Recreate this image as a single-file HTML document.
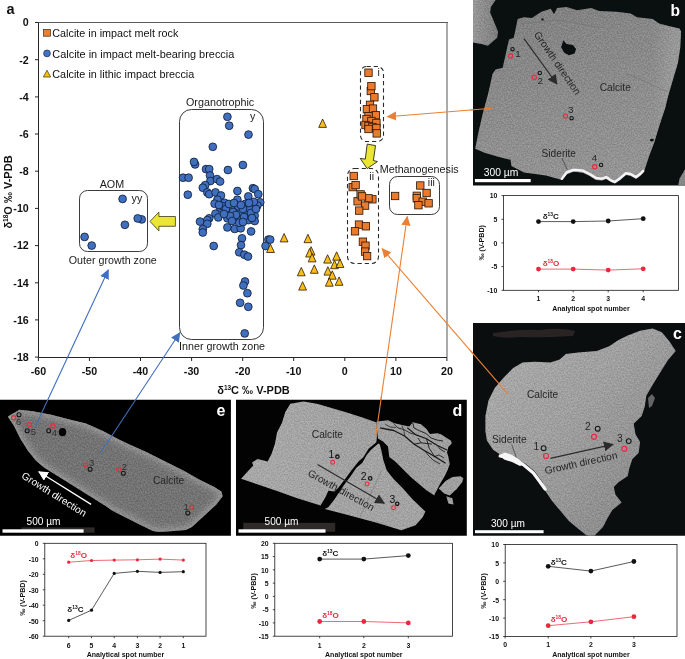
<!DOCTYPE html>
<html><head><meta charset="utf-8"><title>Figure</title>
<style>html,body{margin:0;padding:0;background:#fff;}body{width:685px;height:659px;overflow:hidden;font-family:"Liberation Sans", sans-serif;}svg{display:block;}</style>
</head><body><div style="will-change:transform;width:685px;height:659px;overflow:hidden">
<svg width="685" height="659" viewBox="0 0 685 659" font-family='"Liberation Sans", sans-serif'>
<defs>
<marker id="mo" viewBox="0 0 10 10" refX="9" refY="5" markerWidth="9.8" markerHeight="9.8" markerUnits="userSpaceOnUse" orient="auto"><path d="M0,0.3 L10,5 L0,9.7 z" fill="#EB8035"/></marker>
<marker id="mb" viewBox="0 0 10 10" refX="9" refY="5" markerWidth="9.8" markerHeight="9.8" markerUnits="userSpaceOnUse" orient="auto"><path d="M0,0.3 L10,5 L0,9.7 z" fill="#3F6FBE"/></marker>
<marker id="mk" viewBox="0 0 10 10" refX="9" refY="5" markerWidth="10" markerHeight="10" markerUnits="userSpaceOnUse" orient="auto"><path d="M0,0 L10,5 L0,10 z" fill="#2b2b2b"/></marker>
<marker id="mw" viewBox="0 0 10 10" refX="9" refY="5" markerWidth="10" markerHeight="10" markerUnits="userSpaceOnUse" orient="auto"><path d="M0,0 L10,5 L0,10 z" fill="#ffffff"/></marker>
<linearGradient id="gb" x1="0.2" y1="0" x2="0.5" y2="1"><stop offset="0" stop-color="#818181"/><stop offset="0.35" stop-color="#8a8a8a"/><stop offset="1" stop-color="#979797"/></linearGradient>
<linearGradient id="gc" x1="0" y1="0" x2="1" y2="1"><stop offset="0" stop-color="#b2b2b2"/><stop offset="0.45" stop-color="#a2a2a2"/><stop offset="1" stop-color="#848484"/></linearGradient>
<linearGradient id="gd" x1="0" y1="0" x2="1" y2="0"><stop offset="0" stop-color="#adadad"/><stop offset="1" stop-color="#a5a5a5"/></linearGradient>
<linearGradient id="ge" x1="0" y1="0" x2="1" y2="0.5"><stop offset="0" stop-color="#8e8e8e"/><stop offset="0.5" stop-color="#7a7a7a"/><stop offset="1" stop-color="#808080"/></linearGradient>
<filter id="blur3" x="-20%" y="-20%" width="140%" height="140%"><feGaussianBlur stdDeviation="3"/></filter>
<linearGradient id="gb0" x1="0" y1="0" x2="1" y2="0"><stop offset="0" stop-color="#9a9a9a"/><stop offset="1" stop-color="#7e7e7e"/></linearGradient>
<filter id="tex" x="0" y="0" width="100%" height="100%" color-interpolation-filters="sRGB">
<feTurbulence type="fractalNoise" baseFrequency="0.7" numOctaves="2" seed="7" result="n"/>
<feColorMatrix in="n" type="matrix" values="2.2 0 0 0 -0.6  2.2 0 0 0 -0.6  2.2 0 0 0 -0.6  0 0 0 0 0.11" result="n2"/>
<feComposite in="n2" in2="SourceGraphic" operator="in" result="n3"/>
<feMerge><feMergeNode in="SourceGraphic"/><feMergeNode in="n3"/></feMerge>
</filter>
<linearGradient id="gbr" x1="0" y1="0" x2="1" y2="0"><stop offset="0" stop-color="#fff" stop-opacity="0"/><stop offset="0.86" stop-color="#fff" stop-opacity="0"/><stop offset="0.96" stop-color="#fff" stop-opacity="0.13"/><stop offset="1" stop-color="#fff" stop-opacity="0.13"/></linearGradient>
</defs>
<rect width="685" height="659" fill="#ffffff"/>
<line x1="447" y1="22.0" x2="447" y2="357.5" stroke="#ababab" stroke-width="2"/>
<line x1="38.5" y1="22.5" x2="448" y2="22.5" stroke="#5a5a5a" stroke-width="1"/>
<path d="M38.5,22.5 V357.5 H447" fill="none" stroke="#262626" stroke-width="1"/>
<line x1="35.0" y1="22.5" x2="38.5" y2="22.5" stroke="#262626" stroke-width="1"/>
<text x="28.8" y="26.3" font-size="10.7" font-weight="bold" text-anchor="end" fill="#111">0</text>
<line x1="35.0" y1="59.7" x2="38.5" y2="59.7" stroke="#262626" stroke-width="1"/>
<text x="28.8" y="63.5" font-size="10.7" font-weight="bold" text-anchor="end" fill="#111">-2</text>
<line x1="35.0" y1="96.9" x2="38.5" y2="96.9" stroke="#262626" stroke-width="1"/>
<text x="28.8" y="100.7" font-size="10.7" font-weight="bold" text-anchor="end" fill="#111">-4</text>
<line x1="35.0" y1="134.0" x2="38.5" y2="134.0" stroke="#262626" stroke-width="1"/>
<text x="28.8" y="137.8" font-size="10.7" font-weight="bold" text-anchor="end" fill="#111">-6</text>
<line x1="35.0" y1="171.2" x2="38.5" y2="171.2" stroke="#262626" stroke-width="1"/>
<text x="28.8" y="175.0" font-size="10.7" font-weight="bold" text-anchor="end" fill="#111">-8</text>
<line x1="35.0" y1="208.4" x2="38.5" y2="208.4" stroke="#262626" stroke-width="1"/>
<text x="28.8" y="212.2" font-size="10.7" font-weight="bold" text-anchor="end" fill="#111">-10</text>
<line x1="35.0" y1="245.6" x2="38.5" y2="245.6" stroke="#262626" stroke-width="1"/>
<text x="28.8" y="249.4" font-size="10.7" font-weight="bold" text-anchor="end" fill="#111">-12</text>
<line x1="35.0" y1="282.8" x2="38.5" y2="282.8" stroke="#262626" stroke-width="1"/>
<text x="28.8" y="286.6" font-size="10.7" font-weight="bold" text-anchor="end" fill="#111">-14</text>
<line x1="35.0" y1="319.9" x2="38.5" y2="319.9" stroke="#262626" stroke-width="1"/>
<text x="28.8" y="323.7" font-size="10.7" font-weight="bold" text-anchor="end" fill="#111">-16</text>
<line x1="35.0" y1="357.1" x2="38.5" y2="357.1" stroke="#262626" stroke-width="1"/>
<text x="28.8" y="360.9" font-size="10.7" font-weight="bold" text-anchor="end" fill="#111">-18</text>
<line x1="38.4" y1="357.5" x2="38.4" y2="361.0" stroke="#262626" stroke-width="1"/>
<text x="38.4" y="374.6" font-size="10.7" font-weight="bold" text-anchor="middle" fill="#111">-60</text>
<line x1="89.4" y1="357.5" x2="89.4" y2="361.0" stroke="#262626" stroke-width="1"/>
<text x="89.4" y="374.6" font-size="10.7" font-weight="bold" text-anchor="middle" fill="#111">-50</text>
<line x1="140.5" y1="357.5" x2="140.5" y2="361.0" stroke="#262626" stroke-width="1"/>
<text x="140.5" y="374.6" font-size="10.7" font-weight="bold" text-anchor="middle" fill="#111">-40</text>
<line x1="191.6" y1="357.5" x2="191.6" y2="361.0" stroke="#262626" stroke-width="1"/>
<text x="191.6" y="374.6" font-size="10.7" font-weight="bold" text-anchor="middle" fill="#111">-30</text>
<line x1="242.7" y1="357.5" x2="242.7" y2="361.0" stroke="#262626" stroke-width="1"/>
<text x="242.7" y="374.6" font-size="10.7" font-weight="bold" text-anchor="middle" fill="#111">-20</text>
<line x1="293.7" y1="357.5" x2="293.7" y2="361.0" stroke="#262626" stroke-width="1"/>
<text x="293.7" y="374.6" font-size="10.7" font-weight="bold" text-anchor="middle" fill="#111">-10</text>
<line x1="344.8" y1="357.5" x2="344.8" y2="361.0" stroke="#262626" stroke-width="1"/>
<text x="344.8" y="374.6" font-size="10.7" font-weight="bold" text-anchor="middle" fill="#111">0</text>
<line x1="395.9" y1="357.5" x2="395.9" y2="361.0" stroke="#262626" stroke-width="1"/>
<text x="395.9" y="374.6" font-size="10.7" font-weight="bold" text-anchor="middle" fill="#111">10</text>
<line x1="446.9" y1="357.5" x2="446.9" y2="361.0" stroke="#262626" stroke-width="1"/>
<text x="446.9" y="374.6" font-size="10.7" font-weight="bold" text-anchor="middle" fill="#111">20</text>
<text x="253.5" y="393.6" font-size="11" font-weight="bold" text-anchor="middle" fill="#111">δ<tspan font-size="6.5" dy="-4">13</tspan><tspan dy="4">C ‰ V-PDB</tspan></text>
<text transform="translate(12.2,192) rotate(-90)" font-size="11" font-weight="bold" text-anchor="middle" fill="#111">δ<tspan font-size="6.5" dy="-4">18</tspan><tspan dy="4">O ‰ V-PDB</tspan></text>
<text x="6.4" y="13.7" font-size="14.5" font-weight="bold" fill="#111">a</text>
<rect x="43.6" y="29.4" width="6.8" height="6.8" fill="#ED7D31" stroke="#3a2a1a" stroke-width="0.7"/>
<text x="52.3" y="37" font-size="10.6" fill="#111" textLength="126" lengthAdjust="spacingAndGlyphs">Calcite in impact melt rock</text>
<circle cx="47" cy="53.4" r="3.4" fill="#4472C4" stroke="#1b2b4a" stroke-width="0.7"/>
<text x="52.3" y="57.5" font-size="10.6" fill="#111" textLength="182" lengthAdjust="spacingAndGlyphs">Calcite in impact melt-bearing breccia</text>
<path d="M47,70.2 L50.6,77 L43.4,77 z" fill="#FFC000" stroke="#3a2a1a" stroke-width="0.7"/>
<text x="52.3" y="78" font-size="10.6" fill="#111" textLength="142" lengthAdjust="spacingAndGlyphs">Calcite in lithic impact breccia</text>
<rect x="179.5" y="109.5" width="84" height="230" rx="12" ry="12" fill="none" stroke="#262626" stroke-width="0.9"/>
<rect x="79.5" y="190.5" width="68" height="61" rx="8" ry="8" fill="none" stroke="#262626" stroke-width="0.9"/>
<rect x="360.5" y="66.5" width="23" height="75" rx="6" ry="6" fill="none" stroke="#2a2a2a" stroke-width="1.1" stroke-dasharray="4.2,3"/>
<rect x="347.5" y="168.5" width="31" height="95" rx="7" ry="7" fill="none" stroke="#2a2a2a" stroke-width="1.1" stroke-dasharray="4.2,3"/>
<rect x="389.5" y="176.5" width="50" height="38" rx="8" ry="8" fill="none" stroke="#262626" stroke-width="0.9"/>
<text x="186" y="106" font-size="10.7" text-anchor="start" fill="#1a1a1a" textLength="68.2" lengthAdjust="spacingAndGlyphs">Organotrophic</text>
<text x="250" y="120.2" font-size="10.7" text-anchor="start" fill="#1a1a1a">y</text>
<text x="99.7" y="188.3" font-size="10.7" text-anchor="start" fill="#1a1a1a" textLength="24.5" lengthAdjust="spacingAndGlyphs">AOM</text>
<text x="131.6" y="201.8" font-size="10.7" text-anchor="start" fill="#1a1a1a">yy</text>
<text x="68.8" y="263.6" font-size="10.7" text-anchor="start" fill="#1a1a1a" textLength="88" lengthAdjust="spacingAndGlyphs">Outer growth zone</text>
<text x="179.1" y="350.3" font-size="10.7" text-anchor="start" fill="#1a1a1a" textLength="86" lengthAdjust="spacingAndGlyphs">Inner growth zone</text>
<text x="379.7" y="172.8" font-size="10.7" text-anchor="start" fill="#1a1a1a" textLength="79" lengthAdjust="spacingAndGlyphs">Methanogenesis</text>
<text x="377.5" y="76" font-size="10.5" text-anchor="start" fill="#1a1a1a">i</text>
<text x="369.3" y="180.3" font-size="10.5" text-anchor="start" fill="#1a1a1a">ii</text>
<text x="427.8" y="186" font-size="10.5" text-anchor="start" fill="#1a1a1a">iii</text>
<circle cx="227.4" cy="116.8" r="3.9" fill="#3F6FBE" stroke="#0e1a33" stroke-width="0.8"/>
<circle cx="229.2" cy="125.7" r="3.9" fill="#3F6FBE" stroke="#0e1a33" stroke-width="0.8"/>
<circle cx="248.5" cy="134.6" r="3.9" fill="#3F6FBE" stroke="#0e1a33" stroke-width="0.8"/>
<circle cx="212.8" cy="146.8" r="3.9" fill="#3F6FBE" stroke="#0e1a33" stroke-width="0.8"/>
<circle cx="195.1" cy="164.4" r="3.9" fill="#3F6FBE" stroke="#0e1a33" stroke-width="0.8"/>
<circle cx="194" cy="161.9" r="3.9" fill="#3F6FBE" stroke="#0e1a33" stroke-width="0.8"/>
<circle cx="242.9" cy="165" r="3.9" fill="#3F6FBE" stroke="#0e1a33" stroke-width="0.8"/>
<circle cx="227.9" cy="170" r="3.9" fill="#3F6FBE" stroke="#0e1a33" stroke-width="0.8"/>
<circle cx="206" cy="169.1" r="3.9" fill="#3F6FBE" stroke="#0e1a33" stroke-width="0.8"/>
<circle cx="209.2" cy="169.1" r="3.9" fill="#3F6FBE" stroke="#0e1a33" stroke-width="0.8"/>
<circle cx="183.1" cy="177.7" r="3.9" fill="#3F6FBE" stroke="#0e1a33" stroke-width="0.8"/>
<circle cx="188.6" cy="177.7" r="3.9" fill="#3F6FBE" stroke="#0e1a33" stroke-width="0.8"/>
<circle cx="210" cy="175.5" r="3.9" fill="#3F6FBE" stroke="#0e1a33" stroke-width="0.8"/>
<circle cx="210.4" cy="181" r="3.9" fill="#3F6FBE" stroke="#0e1a33" stroke-width="0.8"/>
<circle cx="217" cy="179.1" r="3.9" fill="#3F6FBE" stroke="#0e1a33" stroke-width="0.8"/>
<circle cx="220.1" cy="181.5" r="3.9" fill="#3F6FBE" stroke="#0e1a33" stroke-width="0.8"/>
<circle cx="205.2" cy="185.1" r="3.9" fill="#3F6FBE" stroke="#0e1a33" stroke-width="0.8"/>
<circle cx="202.8" cy="187.7" r="3.9" fill="#3F6FBE" stroke="#0e1a33" stroke-width="0.8"/>
<circle cx="187.8" cy="194.7" r="3.9" fill="#3F6FBE" stroke="#0e1a33" stroke-width="0.8"/>
<circle cx="207.3" cy="192.4" r="3.9" fill="#3F6FBE" stroke="#0e1a33" stroke-width="0.8"/>
<circle cx="209.2" cy="194.2" r="3.9" fill="#3F6FBE" stroke="#0e1a33" stroke-width="0.8"/>
<circle cx="215.5" cy="192.4" r="3.9" fill="#3F6FBE" stroke="#0e1a33" stroke-width="0.8"/>
<circle cx="221" cy="195.5" r="3.9" fill="#3F6FBE" stroke="#0e1a33" stroke-width="0.8"/>
<circle cx="237.4" cy="191" r="3.9" fill="#3F6FBE" stroke="#0e1a33" stroke-width="0.8"/>
<circle cx="252.9" cy="188.2" r="3.9" fill="#3F6FBE" stroke="#0e1a33" stroke-width="0.8"/>
<circle cx="254.7" cy="189.1" r="3.9" fill="#3F6FBE" stroke="#0e1a33" stroke-width="0.8"/>
<circle cx="258.3" cy="194.2" r="3.9" fill="#3F6FBE" stroke="#0e1a33" stroke-width="0.8"/>
<circle cx="248.3" cy="196.4" r="3.9" fill="#3F6FBE" stroke="#0e1a33" stroke-width="0.8"/>
<circle cx="260.2" cy="202.3" r="3.9" fill="#3F6FBE" stroke="#0e1a33" stroke-width="0.8"/>
<circle cx="257.4" cy="205.5" r="3.9" fill="#3F6FBE" stroke="#0e1a33" stroke-width="0.8"/>
<circle cx="237.4" cy="199.7" r="3.9" fill="#3F6FBE" stroke="#0e1a33" stroke-width="0.8"/>
<circle cx="217.4" cy="199.7" r="3.9" fill="#3F6FBE" stroke="#0e1a33" stroke-width="0.8"/>
<circle cx="214.6" cy="203.7" r="3.9" fill="#3F6FBE" stroke="#0e1a33" stroke-width="0.8"/>
<circle cx="220.1" cy="208.3" r="3.9" fill="#3F6FBE" stroke="#0e1a33" stroke-width="0.8"/>
<circle cx="224.6" cy="202.8" r="3.9" fill="#3F6FBE" stroke="#0e1a33" stroke-width="0.8"/>
<circle cx="231" cy="207" r="3.9" fill="#3F6FBE" stroke="#0e1a33" stroke-width="0.8"/>
<circle cx="228.3" cy="212.8" r="3.9" fill="#3F6FBE" stroke="#0e1a33" stroke-width="0.8"/>
<circle cx="215.5" cy="213.7" r="3.9" fill="#3F6FBE" stroke="#0e1a33" stroke-width="0.8"/>
<circle cx="218.3" cy="217.4" r="3.9" fill="#3F6FBE" stroke="#0e1a33" stroke-width="0.8"/>
<circle cx="209.2" cy="218.3" r="3.9" fill="#3F6FBE" stroke="#0e1a33" stroke-width="0.8"/>
<circle cx="207.3" cy="220.1" r="3.9" fill="#3F6FBE" stroke="#0e1a33" stroke-width="0.8"/>
<circle cx="200" cy="221.6" r="3.9" fill="#3F6FBE" stroke="#0e1a33" stroke-width="0.8"/>
<circle cx="207.3" cy="223.8" r="3.9" fill="#3F6FBE" stroke="#0e1a33" stroke-width="0.8"/>
<circle cx="202.8" cy="229.2" r="3.9" fill="#3F6FBE" stroke="#0e1a33" stroke-width="0.8"/>
<circle cx="202.8" cy="232.5" r="3.9" fill="#3F6FBE" stroke="#0e1a33" stroke-width="0.8"/>
<circle cx="227.4" cy="218.3" r="3.9" fill="#3F6FBE" stroke="#0e1a33" stroke-width="0.8"/>
<circle cx="227.4" cy="227.4" r="3.9" fill="#3F6FBE" stroke="#0e1a33" stroke-width="0.8"/>
<circle cx="234.7" cy="228.9" r="3.9" fill="#3F6FBE" stroke="#0e1a33" stroke-width="0.8"/>
<circle cx="240.7" cy="228.3" r="3.9" fill="#3F6FBE" stroke="#0e1a33" stroke-width="0.8"/>
<circle cx="251.1" cy="231.4" r="3.9" fill="#3F6FBE" stroke="#0e1a33" stroke-width="0.8"/>
<circle cx="237.4" cy="218.3" r="3.9" fill="#3F6FBE" stroke="#0e1a33" stroke-width="0.8"/>
<circle cx="239.2" cy="222.8" r="3.9" fill="#3F6FBE" stroke="#0e1a33" stroke-width="0.8"/>
<circle cx="240.1" cy="212.8" r="3.9" fill="#3F6FBE" stroke="#0e1a33" stroke-width="0.8"/>
<circle cx="238.3" cy="206.4" r="3.9" fill="#3F6FBE" stroke="#0e1a33" stroke-width="0.8"/>
<circle cx="245.6" cy="203.7" r="3.9" fill="#3F6FBE" stroke="#0e1a33" stroke-width="0.8"/>
<circle cx="247.4" cy="207.4" r="3.9" fill="#3F6FBE" stroke="#0e1a33" stroke-width="0.8"/>
<circle cx="246.5" cy="214.6" r="3.9" fill="#3F6FBE" stroke="#0e1a33" stroke-width="0.8"/>
<circle cx="248.3" cy="220.1" r="3.9" fill="#3F6FBE" stroke="#0e1a33" stroke-width="0.8"/>
<circle cx="254.7" cy="215.6" r="3.9" fill="#3F6FBE" stroke="#0e1a33" stroke-width="0.8"/>
<circle cx="254.7" cy="221" r="3.9" fill="#3F6FBE" stroke="#0e1a33" stroke-width="0.8"/>
<circle cx="250.1" cy="209.2" r="3.9" fill="#3F6FBE" stroke="#0e1a33" stroke-width="0.8"/>
<circle cx="253.8" cy="201.9" r="3.9" fill="#3F6FBE" stroke="#0e1a33" stroke-width="0.8"/>
<circle cx="242" cy="238.3" r="3.9" fill="#3F6FBE" stroke="#0e1a33" stroke-width="0.8"/>
<circle cx="241" cy="245.1" r="3.9" fill="#3F6FBE" stroke="#0e1a33" stroke-width="0.8"/>
<circle cx="239.2" cy="252.3" r="3.9" fill="#3F6FBE" stroke="#0e1a33" stroke-width="0.8"/>
<circle cx="244.3" cy="254.7" r="3.9" fill="#3F6FBE" stroke="#0e1a33" stroke-width="0.8"/>
<circle cx="248" cy="256.5" r="3.9" fill="#3F6FBE" stroke="#0e1a33" stroke-width="0.8"/>
<circle cx="213.7" cy="246" r="3.9" fill="#3F6FBE" stroke="#0e1a33" stroke-width="0.8"/>
<circle cx="268.4" cy="239.6" r="3.9" fill="#3F6FBE" stroke="#0e1a33" stroke-width="0.8"/>
<circle cx="270.2" cy="239.6" r="3.9" fill="#3F6FBE" stroke="#0e1a33" stroke-width="0.8"/>
<circle cx="265.6" cy="246" r="3.9" fill="#3F6FBE" stroke="#0e1a33" stroke-width="0.8"/>
<circle cx="245" cy="281.5" r="3.9" fill="#3F6FBE" stroke="#0e1a33" stroke-width="0.8"/>
<circle cx="243.4" cy="285.5" r="3.9" fill="#3F6FBE" stroke="#0e1a33" stroke-width="0.8"/>
<circle cx="247.4" cy="293.2" r="3.9" fill="#3F6FBE" stroke="#0e1a33" stroke-width="0.8"/>
<circle cx="240.1" cy="302.8" r="3.9" fill="#3F6FBE" stroke="#0e1a33" stroke-width="0.8"/>
<circle cx="248.3" cy="306.8" r="3.9" fill="#3F6FBE" stroke="#0e1a33" stroke-width="0.8"/>
<circle cx="244.7" cy="333.4" r="3.9" fill="#3F6FBE" stroke="#0e1a33" stroke-width="0.8"/>
<circle cx="222" cy="206" r="3.9" fill="#3F6FBE" stroke="#0e1a33" stroke-width="0.8"/>
<circle cx="226" cy="209" r="3.9" fill="#3F6FBE" stroke="#0e1a33" stroke-width="0.8"/>
<circle cx="233" cy="212" r="3.9" fill="#3F6FBE" stroke="#0e1a33" stroke-width="0.8"/>
<circle cx="236" cy="215" r="3.9" fill="#3F6FBE" stroke="#0e1a33" stroke-width="0.8"/>
<circle cx="243" cy="209" r="3.9" fill="#3F6FBE" stroke="#0e1a33" stroke-width="0.8"/>
<circle cx="244" cy="217" r="3.9" fill="#3F6FBE" stroke="#0e1a33" stroke-width="0.8"/>
<circle cx="230" cy="216" r="3.9" fill="#3F6FBE" stroke="#0e1a33" stroke-width="0.8"/>
<circle cx="224" cy="214" r="3.9" fill="#3F6FBE" stroke="#0e1a33" stroke-width="0.8"/>
<circle cx="251" cy="213" r="3.9" fill="#3F6FBE" stroke="#0e1a33" stroke-width="0.8"/>
<circle cx="256" cy="209" r="3.9" fill="#3F6FBE" stroke="#0e1a33" stroke-width="0.8"/>
<circle cx="219" cy="205" r="3.9" fill="#3F6FBE" stroke="#0e1a33" stroke-width="0.8"/>
<circle cx="229" cy="204" r="3.9" fill="#3F6FBE" stroke="#0e1a33" stroke-width="0.8"/>
<circle cx="234" cy="203" r="3.9" fill="#3F6FBE" stroke="#0e1a33" stroke-width="0.8"/>
<circle cx="241" cy="205" r="3.9" fill="#3F6FBE" stroke="#0e1a33" stroke-width="0.8"/>
<circle cx="249" cy="203" r="3.9" fill="#3F6FBE" stroke="#0e1a33" stroke-width="0.8"/>
<circle cx="252" cy="218" r="3.9" fill="#3F6FBE" stroke="#0e1a33" stroke-width="0.8"/>
<circle cx="243" cy="222" r="3.9" fill="#3F6FBE" stroke="#0e1a33" stroke-width="0.8"/>
<circle cx="232" cy="221" r="3.9" fill="#3F6FBE" stroke="#0e1a33" stroke-width="0.8"/>
<circle cx="122.6" cy="198.9" r="3.9" fill="#3F6FBE" stroke="#0e1a33" stroke-width="0.8"/>
<circle cx="141.7" cy="219.4" r="3.9" fill="#3F6FBE" stroke="#0e1a33" stroke-width="0.8"/>
<circle cx="137.7" cy="218.4" r="3.9" fill="#3F6FBE" stroke="#0e1a33" stroke-width="0.8"/>
<circle cx="124.9" cy="224.8" r="3.9" fill="#3F6FBE" stroke="#0e1a33" stroke-width="0.8"/>
<circle cx="84.6" cy="236.9" r="3.9" fill="#3F6FBE" stroke="#0e1a33" stroke-width="0.8"/>
<circle cx="91.7" cy="245.6" r="3.9" fill="#3F6FBE" stroke="#0e1a33" stroke-width="0.8"/>
<path d="M284.1,233.5 L288.0,241.9 L280.2,241.9 z" fill="#FBBD1A" stroke="#2a1c05" stroke-width="0.8"/>
<path d="M270.5,244.1 L274.4,252.5 L266.6,252.5 z" fill="#FBBD1A" stroke="#2a1c05" stroke-width="0.8"/>
<path d="M307.9,234.3 L311.8,242.7 L304.0,242.7 z" fill="#FBBD1A" stroke="#2a1c05" stroke-width="0.8"/>
<path d="M311.1,246.7 L315.0,255.1 L307.2,255.1 z" fill="#FBBD1A" stroke="#2a1c05" stroke-width="0.8"/>
<path d="M309.6,248.6 L313.5,257.0 L305.7,257.0 z" fill="#FBBD1A" stroke="#2a1c05" stroke-width="0.8"/>
<path d="M312.1,253.5 L316.0,261.9 L308.2,261.9 z" fill="#FBBD1A" stroke="#2a1c05" stroke-width="0.8"/>
<path d="M301.3,267.4 L305.2,275.8 L297.4,275.8 z" fill="#FBBD1A" stroke="#2a1c05" stroke-width="0.8"/>
<path d="M314.3,264.9 L318.2,273.3 L310.4,273.3 z" fill="#FBBD1A" stroke="#2a1c05" stroke-width="0.8"/>
<path d="M302.6,281.7 L306.5,290.1 L298.7,290.1 z" fill="#FBBD1A" stroke="#2a1c05" stroke-width="0.8"/>
<path d="M327.6,254.7 L331.5,263.1 L323.7,263.1 z" fill="#FBBD1A" stroke="#2a1c05" stroke-width="0.8"/>
<path d="M336.6,251.8 L340.5,260.2 L332.7,260.2 z" fill="#FBBD1A" stroke="#2a1c05" stroke-width="0.8"/>
<path d="M334.5,260.3 L338.4,268.7 L330.6,268.7 z" fill="#FBBD1A" stroke="#2a1c05" stroke-width="0.8"/>
<path d="M340.0,259.1 L343.9,267.5 L336.1,267.5 z" fill="#FBBD1A" stroke="#2a1c05" stroke-width="0.8"/>
<path d="M327.9,266.7 L331.8,275.1 L324.0,275.1 z" fill="#FBBD1A" stroke="#2a1c05" stroke-width="0.8"/>
<path d="M332.3,270.8 L336.2,279.2 L328.4,279.2 z" fill="#FBBD1A" stroke="#2a1c05" stroke-width="0.8"/>
<path d="M329.3,277.8 L333.2,286.2 L325.4,286.2 z" fill="#FBBD1A" stroke="#2a1c05" stroke-width="0.8"/>
<path d="M339.1,276.9 L343.0,285.3 L335.2,285.3 z" fill="#FBBD1A" stroke="#2a1c05" stroke-width="0.8"/>
<path d="M322.6,119.0 L326.5,127.4 L318.7,127.4 z" fill="#FBBD1A" stroke="#2a1c05" stroke-width="0.8"/>
<rect x="364.8" y="69.0" width="7.4" height="7.4" fill="#E97A2E" stroke="#2a1505" stroke-width="0.8"/>
<rect x="367.1" y="87.3" width="7.4" height="7.4" fill="#E97A2E" stroke="#2a1505" stroke-width="0.8"/>
<rect x="367.7" y="82.4" width="7.4" height="7.4" fill="#E97A2E" stroke="#2a1505" stroke-width="0.8"/>
<rect x="370.7" y="93.6" width="7.4" height="7.4" fill="#E97A2E" stroke="#2a1505" stroke-width="0.8"/>
<rect x="366.3" y="101.1" width="7.4" height="7.4" fill="#E97A2E" stroke="#2a1505" stroke-width="0.8"/>
<rect x="363.2" y="105.5" width="7.4" height="7.4" fill="#E97A2E" stroke="#2a1505" stroke-width="0.8"/>
<rect x="369.3" y="104.9" width="7.4" height="7.4" fill="#E97A2E" stroke="#2a1505" stroke-width="0.8"/>
<rect x="372.1" y="111.4" width="7.4" height="7.4" fill="#E97A2E" stroke="#2a1505" stroke-width="0.8"/>
<rect x="364.8" y="112.4" width="7.4" height="7.4" fill="#E97A2E" stroke="#2a1505" stroke-width="0.8"/>
<rect x="362.8" y="115.3" width="7.4" height="7.4" fill="#E97A2E" stroke="#2a1505" stroke-width="0.8"/>
<rect x="367.7" y="117.3" width="7.4" height="7.4" fill="#E97A2E" stroke="#2a1505" stroke-width="0.8"/>
<rect x="372.7" y="119.3" width="7.4" height="7.4" fill="#E97A2E" stroke="#2a1505" stroke-width="0.8"/>
<rect x="361.8" y="121.3" width="7.4" height="7.4" fill="#E97A2E" stroke="#2a1505" stroke-width="0.8"/>
<rect x="364.8" y="122.3" width="7.4" height="7.4" fill="#E97A2E" stroke="#2a1505" stroke-width="0.8"/>
<rect x="368.7" y="123.3" width="7.4" height="7.4" fill="#E97A2E" stroke="#2a1505" stroke-width="0.8"/>
<rect x="372.7" y="124.3" width="7.4" height="7.4" fill="#E97A2E" stroke="#2a1505" stroke-width="0.8"/>
<rect x="364.8" y="125.3" width="7.4" height="7.4" fill="#E97A2E" stroke="#2a1505" stroke-width="0.8"/>
<rect x="373.0" y="129.7" width="7.4" height="7.4" fill="#E97A2E" stroke="#2a1505" stroke-width="0.8"/>
<rect x="350.0" y="172.3" width="7.4" height="7.4" fill="#E97A2E" stroke="#2a1505" stroke-width="0.8"/>
<rect x="349.0" y="183.4" width="7.4" height="7.4" fill="#E97A2E" stroke="#2a1505" stroke-width="0.8"/>
<rect x="351.9" y="181.4" width="7.4" height="7.4" fill="#E97A2E" stroke="#2a1505" stroke-width="0.8"/>
<rect x="353.9" y="197.6" width="7.4" height="7.4" fill="#E97A2E" stroke="#2a1505" stroke-width="0.8"/>
<rect x="368.7" y="195.6" width="7.4" height="7.4" fill="#E97A2E" stroke="#2a1505" stroke-width="0.8"/>
<rect x="364.8" y="194.6" width="7.4" height="7.4" fill="#E97A2E" stroke="#2a1505" stroke-width="0.8"/>
<rect x="356.9" y="190.7" width="7.4" height="7.4" fill="#E97A2E" stroke="#2a1505" stroke-width="0.8"/>
<rect x="358.3" y="192.7" width="7.4" height="7.4" fill="#E97A2E" stroke="#2a1505" stroke-width="0.8"/>
<rect x="361.4" y="201.9" width="7.4" height="7.4" fill="#E97A2E" stroke="#2a1505" stroke-width="0.8"/>
<rect x="355.5" y="206.9" width="7.4" height="7.4" fill="#E97A2E" stroke="#2a1505" stroke-width="0.8"/>
<rect x="355.3" y="220.9" width="7.4" height="7.4" fill="#E97A2E" stroke="#2a1505" stroke-width="0.8"/>
<rect x="362.2" y="222.6" width="7.4" height="7.4" fill="#E97A2E" stroke="#2a1505" stroke-width="0.8"/>
<rect x="351.3" y="227.6" width="7.4" height="7.4" fill="#E97A2E" stroke="#2a1505" stroke-width="0.8"/>
<rect x="359.2" y="238.0" width="7.4" height="7.4" fill="#E97A2E" stroke="#2a1505" stroke-width="0.8"/>
<rect x="361.8" y="242.0" width="7.4" height="7.4" fill="#E97A2E" stroke="#2a1505" stroke-width="0.8"/>
<rect x="361.4" y="247.9" width="7.4" height="7.4" fill="#E97A2E" stroke="#2a1505" stroke-width="0.8"/>
<rect x="363.4" y="252.4" width="7.4" height="7.4" fill="#E97A2E" stroke="#2a1505" stroke-width="0.8"/>
<rect x="391.4" y="192.3" width="7.4" height="7.4" fill="#E97A2E" stroke="#2a1505" stroke-width="0.8"/>
<rect x="416.6" y="181.8" width="7.4" height="7.4" fill="#E97A2E" stroke="#2a1505" stroke-width="0.8"/>
<rect x="422.9" y="189.3" width="7.4" height="7.4" fill="#E97A2E" stroke="#2a1505" stroke-width="0.8"/>
<rect x="413.1" y="192.1" width="7.4" height="7.4" fill="#E97A2E" stroke="#2a1505" stroke-width="0.8"/>
<rect x="413.1" y="194.6" width="7.4" height="7.4" fill="#E97A2E" stroke="#2a1505" stroke-width="0.8"/>
<rect x="419.0" y="198.0" width="7.4" height="7.4" fill="#E97A2E" stroke="#2a1505" stroke-width="0.8"/>
<rect x="424.9" y="199.6" width="7.4" height="7.4" fill="#E97A2E" stroke="#2a1505" stroke-width="0.8"/>
<rect x="414.7" y="201.5" width="7.4" height="7.4" fill="#E97A2E" stroke="#2a1505" stroke-width="0.8"/>
<path d="M150,221.4 L158.9,212.1 L158.9,216.5 L175.4,216.5 L175.4,226.3 L158.9,226.3 L158.9,230.9 z" fill="#EBE534" stroke="#3a3a1a" stroke-width="0.8"/>
<path d="M367.2,144.1 L375.5,145.6 L373.4,160.5 L377.4,161.6 L367.2,168.6 L360.2,158.4 L365.3,159.1 z" fill="#EBE534" stroke="#2a2a10" stroke-width="0.9" stroke-linejoin="miter"/>
<line x1="492.3" y1="108.2" x2="387.4" y2="116.7" stroke="#EB8035" stroke-width="1.1" marker-end="url(#mo)"/>
<line x1="375.8" y1="435.7" x2="407.2" y2="216.6" stroke="#EB8035" stroke-width="1.1" marker-end="url(#mo)"/>
<line x1="508" y1="394.2" x2="382.2" y2="248.7" stroke="#EB8035" stroke-width="1.1" marker-end="url(#mo)"/>
<rect x="503.5" y="195.6" width="175.1" height="94.7" fill="#fff" stroke="#1a1a1a" stroke-width="0.8"/>
<line x1="501.5" y1="290.3" x2="503.5" y2="290.3" stroke="#1a1a1a" stroke-width="0.8"/>
<text x="497.3" y="293.1" font-size="6.9" font-weight="bold" text-anchor="end" fill="#111">-10</text>
<line x1="501.5" y1="266.6" x2="503.5" y2="266.6" stroke="#1a1a1a" stroke-width="0.8"/>
<text x="497.3" y="269.4" font-size="6.9" font-weight="bold" text-anchor="end" fill="#111">-5</text>
<line x1="501.5" y1="242.9" x2="503.5" y2="242.9" stroke="#1a1a1a" stroke-width="0.8"/>
<text x="497.3" y="245.7" font-size="6.9" font-weight="bold" text-anchor="end" fill="#111">0</text>
<line x1="501.5" y1="219.3" x2="503.5" y2="219.3" stroke="#1a1a1a" stroke-width="0.8"/>
<text x="497.3" y="222.0" font-size="6.9" font-weight="bold" text-anchor="end" fill="#111">5</text>
<line x1="501.5" y1="195.6" x2="503.5" y2="195.6" stroke="#1a1a1a" stroke-width="0.8"/>
<text x="497.3" y="198.3" font-size="6.9" font-weight="bold" text-anchor="end" fill="#111">10</text>
<line x1="538.5" y1="290.3" x2="538.5" y2="292.3" stroke="#1a1a1a" stroke-width="0.8"/>
<text x="538.5" y="301.0" font-size="6.9" font-weight="bold" text-anchor="middle" fill="#111">1</text>
<line x1="573.2" y1="290.3" x2="573.2" y2="292.3" stroke="#1a1a1a" stroke-width="0.8"/>
<text x="573.2" y="301.0" font-size="6.9" font-weight="bold" text-anchor="middle" fill="#111">2</text>
<line x1="608.2" y1="290.3" x2="608.2" y2="292.3" stroke="#1a1a1a" stroke-width="0.8"/>
<text x="608.2" y="301.0" font-size="6.9" font-weight="bold" text-anchor="middle" fill="#111">3</text>
<line x1="643.2" y1="290.3" x2="643.2" y2="292.3" stroke="#1a1a1a" stroke-width="0.8"/>
<text x="643.2" y="301.0" font-size="6.9" font-weight="bold" text-anchor="middle" fill="#111">4</text>
<polyline points="538.5,221.6 573.2,221.6 608.2,221.0 643.2,218.7" fill="none" stroke="#111111" stroke-width="0.7"/>
<circle cx="538.5" cy="221.6" r="2.4" fill="#111111"/>
<circle cx="573.2" cy="221.6" r="2.4" fill="#111111"/>
<circle cx="608.2" cy="221.0" r="2.4" fill="#111111"/>
<circle cx="643.2" cy="218.7" r="2.4" fill="#111111"/>
<polyline points="538.5,269.1 573.2,269.1 608.2,270.1 643.2,268.8" fill="none" stroke="#E8283C" stroke-width="0.7"/>
<circle cx="538.5" cy="269.1" r="2.4" fill="#E8283C"/>
<circle cx="573.2" cy="269.1" r="2.4" fill="#E8283C"/>
<circle cx="608.2" cy="270.1" r="2.4" fill="#E8283C"/>
<circle cx="643.2" cy="268.8" r="2.4" fill="#E8283C"/>
<text x="590.9" y="311.4" font-size="7" font-weight="bold" text-anchor="middle" fill="#111" textLength="77.5" lengthAdjust="spacingAndGlyphs">Analytical spot number</text>
<text transform="translate(484.3,242.8) rotate(-90)" font-size="6.6" font-weight="bold" text-anchor="middle" fill="#111" textLength="35.5" lengthAdjust="spacingAndGlyphs">‰ (V-PBD)</text>
<text x="542.7" y="218.6" font-size="8.1" font-weight="bold" fill="#111111">δ<tspan font-size="4.9" dy="-3">13</tspan><tspan dy="3">C</tspan></text>
<text x="542.7" y="266" font-size="8.1" font-weight="bold" fill="#E8283C">δ<tspan font-size="4.9" dy="-3">18</tspan><tspan dy="3">O</tspan></text>
<rect x="505.2" y="544.5" width="171.8" height="92.0" fill="#fff" stroke="#1a1a1a" stroke-width="0.8"/>
<line x1="503.2" y1="636.5" x2="505.2" y2="636.5" stroke="#1a1a1a" stroke-width="0.8"/>
<text x="499.0" y="639.2" font-size="6.9" font-weight="bold" text-anchor="end" fill="#111">-15</text>
<line x1="503.2" y1="618.1" x2="505.2" y2="618.1" stroke="#1a1a1a" stroke-width="0.8"/>
<text x="499.0" y="620.9" font-size="6.9" font-weight="bold" text-anchor="end" fill="#111">-10</text>
<line x1="503.2" y1="599.7" x2="505.2" y2="599.7" stroke="#1a1a1a" stroke-width="0.8"/>
<text x="499.0" y="602.5" font-size="6.9" font-weight="bold" text-anchor="end" fill="#111">-5</text>
<line x1="503.2" y1="581.3" x2="505.2" y2="581.3" stroke="#1a1a1a" stroke-width="0.8"/>
<text x="499.0" y="584.0" font-size="6.9" font-weight="bold" text-anchor="end" fill="#111">0</text>
<line x1="503.2" y1="562.9" x2="505.2" y2="562.9" stroke="#1a1a1a" stroke-width="0.8"/>
<text x="499.0" y="565.6" font-size="6.9" font-weight="bold" text-anchor="end" fill="#111">5</text>
<line x1="503.2" y1="544.5" x2="505.2" y2="544.5" stroke="#1a1a1a" stroke-width="0.8"/>
<text x="499.0" y="547.2" font-size="6.9" font-weight="bold" text-anchor="end" fill="#111">10</text>
<line x1="505.1" y1="636.5" x2="505.1" y2="638.5" stroke="#1a1a1a" stroke-width="0.8"/>
<text x="505.1" y="647.3" font-size="6.9" font-weight="bold" text-anchor="middle" fill="#111">0</text>
<line x1="548.2" y1="636.5" x2="548.2" y2="638.5" stroke="#1a1a1a" stroke-width="0.8"/>
<text x="548.2" y="647.3" font-size="6.9" font-weight="bold" text-anchor="middle" fill="#111">1</text>
<line x1="590.9" y1="636.5" x2="590.9" y2="638.5" stroke="#1a1a1a" stroke-width="0.8"/>
<text x="590.9" y="647.3" font-size="6.9" font-weight="bold" text-anchor="middle" fill="#111">2</text>
<line x1="633.9" y1="636.5" x2="633.9" y2="638.5" stroke="#1a1a1a" stroke-width="0.8"/>
<text x="633.9" y="647.3" font-size="6.9" font-weight="bold" text-anchor="middle" fill="#111">3</text>
<polyline points="548.2,566.3 590.9,571.1 633.9,561.5" fill="none" stroke="#111111" stroke-width="0.7"/>
<circle cx="548.2" cy="566.3" r="2.4" fill="#111111"/>
<circle cx="590.9" cy="571.1" r="2.4" fill="#111111"/>
<circle cx="633.9" cy="561.5" r="2.4" fill="#111111"/>
<polyline points="548.2,625.7 590.9,621.8 633.9,616.7" fill="none" stroke="#E8283C" stroke-width="0.7"/>
<circle cx="548.2" cy="625.7" r="2.4" fill="#E8283C"/>
<circle cx="590.9" cy="621.8" r="2.4" fill="#E8283C"/>
<circle cx="633.9" cy="616.7" r="2.4" fill="#E8283C"/>
<text x="590.9" y="657.0" font-size="7" font-weight="bold" text-anchor="middle" fill="#111" textLength="77.5" lengthAdjust="spacingAndGlyphs">Analytical spot number</text>
<text transform="translate(485.6,591) rotate(-90)" font-size="6.6" font-weight="bold" text-anchor="middle" fill="#111" textLength="35.5" lengthAdjust="spacingAndGlyphs">‰ (V-PBD)</text>
<text x="550.7" y="565" font-size="8.1" font-weight="bold" fill="#111111">δ<tspan font-size="4.9" dy="-3">13</tspan><tspan dy="3">C</tspan></text>
<text x="550.7" y="621.7" font-size="8.1" font-weight="bold" fill="#E8283C">δ<tspan font-size="4.9" dy="-3">18</tspan><tspan dy="3">O</tspan></text>
<rect x="274.8" y="543.3" width="177.7" height="92.9" fill="#fff" stroke="#1a1a1a" stroke-width="0.8"/>
<line x1="272.8" y1="636.2" x2="274.8" y2="636.2" stroke="#1a1a1a" stroke-width="0.8"/>
<text x="268.6" y="639.0" font-size="6.9" font-weight="bold" text-anchor="end" fill="#111">-15</text>
<line x1="272.8" y1="622.9" x2="274.8" y2="622.9" stroke="#1a1a1a" stroke-width="0.8"/>
<text x="268.6" y="625.7" font-size="6.9" font-weight="bold" text-anchor="end" fill="#111">-10</text>
<line x1="272.8" y1="609.7" x2="274.8" y2="609.7" stroke="#1a1a1a" stroke-width="0.8"/>
<text x="268.6" y="612.4" font-size="6.9" font-weight="bold" text-anchor="end" fill="#111">-5</text>
<line x1="272.8" y1="596.4" x2="274.8" y2="596.4" stroke="#1a1a1a" stroke-width="0.8"/>
<text x="268.6" y="599.1" font-size="6.9" font-weight="bold" text-anchor="end" fill="#111">0</text>
<line x1="272.8" y1="583.1" x2="274.8" y2="583.1" stroke="#1a1a1a" stroke-width="0.8"/>
<text x="268.6" y="585.9" font-size="6.9" font-weight="bold" text-anchor="end" fill="#111">5</text>
<line x1="272.8" y1="569.8" x2="274.8" y2="569.8" stroke="#1a1a1a" stroke-width="0.8"/>
<text x="268.6" y="572.6" font-size="6.9" font-weight="bold" text-anchor="end" fill="#111">10</text>
<line x1="272.8" y1="556.6" x2="274.8" y2="556.6" stroke="#1a1a1a" stroke-width="0.8"/>
<text x="268.6" y="559.3" font-size="6.9" font-weight="bold" text-anchor="end" fill="#111">15</text>
<line x1="272.8" y1="543.3" x2="274.8" y2="543.3" stroke="#1a1a1a" stroke-width="0.8"/>
<text x="268.6" y="546.0" font-size="6.9" font-weight="bold" text-anchor="end" fill="#111">20</text>
<line x1="319.7" y1="636.2" x2="319.7" y2="638.2" stroke="#1a1a1a" stroke-width="0.8"/>
<text x="319.7" y="647.9" font-size="6.9" font-weight="bold" text-anchor="middle" fill="#111">1</text>
<line x1="363.8" y1="636.2" x2="363.8" y2="638.2" stroke="#1a1a1a" stroke-width="0.8"/>
<text x="363.8" y="647.9" font-size="6.9" font-weight="bold" text-anchor="middle" fill="#111">2</text>
<line x1="408.3" y1="636.2" x2="408.3" y2="638.2" stroke="#1a1a1a" stroke-width="0.8"/>
<text x="408.3" y="647.9" font-size="6.9" font-weight="bold" text-anchor="middle" fill="#111">3</text>
<polyline points="319.7,559.1 363.8,559.1 408.3,555.6" fill="none" stroke="#111111" stroke-width="0.7"/>
<circle cx="319.7" cy="559.1" r="2.4" fill="#111111"/>
<circle cx="363.8" cy="559.1" r="2.4" fill="#111111"/>
<circle cx="408.3" cy="555.6" r="2.4" fill="#111111"/>
<polyline points="319.7,621.5 363.8,621.5 408.3,622.9" fill="none" stroke="#E8283C" stroke-width="0.7"/>
<circle cx="319.7" cy="621.5" r="2.4" fill="#E8283C"/>
<circle cx="363.8" cy="621.5" r="2.4" fill="#E8283C"/>
<circle cx="408.3" cy="622.9" r="2.4" fill="#E8283C"/>
<text x="363.8" y="657.0" font-size="7" font-weight="bold" text-anchor="middle" fill="#111" textLength="77.5" lengthAdjust="spacingAndGlyphs">Analytical spot number</text>
<text transform="translate(256,590.9) rotate(-90)" font-size="6.6" font-weight="bold" text-anchor="middle" fill="#111" textLength="35.5" lengthAdjust="spacingAndGlyphs">‰ (V-PBD)</text>
<text x="322.2" y="556" font-size="8.1" font-weight="bold" fill="#111111">δ<tspan font-size="4.9" dy="-3">13</tspan><tspan dy="3">C</tspan></text>
<text x="322.2" y="618.2" font-size="8.1" font-weight="bold" fill="#E8283C">δ<tspan font-size="4.9" dy="-3">18</tspan><tspan dy="3">O</tspan></text>
<rect x="44.8" y="543.3" width="161.2" height="92.9" fill="#fff" stroke="#1a1a1a" stroke-width="0.8"/>
<line x1="42.8" y1="636.2" x2="44.8" y2="636.2" stroke="#1a1a1a" stroke-width="0.8"/>
<text x="38.6" y="639.0" font-size="6.9" font-weight="bold" text-anchor="end" fill="#111">-60</text>
<line x1="42.8" y1="620.7" x2="44.8" y2="620.7" stroke="#1a1a1a" stroke-width="0.8"/>
<text x="38.6" y="623.5" font-size="6.9" font-weight="bold" text-anchor="end" fill="#111">-50</text>
<line x1="42.8" y1="605.2" x2="44.8" y2="605.2" stroke="#1a1a1a" stroke-width="0.8"/>
<text x="38.6" y="608.0" font-size="6.9" font-weight="bold" text-anchor="end" fill="#111">-40</text>
<line x1="42.8" y1="589.8" x2="44.8" y2="589.8" stroke="#1a1a1a" stroke-width="0.8"/>
<text x="38.6" y="592.5" font-size="6.9" font-weight="bold" text-anchor="end" fill="#111">-30</text>
<line x1="42.8" y1="574.3" x2="44.8" y2="574.3" stroke="#1a1a1a" stroke-width="0.8"/>
<text x="38.6" y="577.0" font-size="6.9" font-weight="bold" text-anchor="end" fill="#111">-20</text>
<line x1="42.8" y1="558.8" x2="44.8" y2="558.8" stroke="#1a1a1a" stroke-width="0.8"/>
<text x="38.6" y="561.5" font-size="6.9" font-weight="bold" text-anchor="end" fill="#111">-10</text>
<line x1="42.8" y1="543.3" x2="44.8" y2="543.3" stroke="#1a1a1a" stroke-width="0.8"/>
<text x="38.6" y="546.0" font-size="6.9" font-weight="bold" text-anchor="end" fill="#111">0</text>
<line x1="68.7" y1="636.2" x2="68.7" y2="638.2" stroke="#1a1a1a" stroke-width="0.8"/>
<text x="68.7" y="647.5" font-size="6.9" font-weight="bold" text-anchor="middle" fill="#111">6</text>
<line x1="91.5" y1="636.2" x2="91.5" y2="638.2" stroke="#1a1a1a" stroke-width="0.8"/>
<text x="91.5" y="647.5" font-size="6.9" font-weight="bold" text-anchor="middle" fill="#111">5</text>
<line x1="114.2" y1="636.2" x2="114.2" y2="638.2" stroke="#1a1a1a" stroke-width="0.8"/>
<text x="114.2" y="647.5" font-size="6.9" font-weight="bold" text-anchor="middle" fill="#111">4</text>
<line x1="137.4" y1="636.2" x2="137.4" y2="638.2" stroke="#1a1a1a" stroke-width="0.8"/>
<text x="137.4" y="647.5" font-size="6.9" font-weight="bold" text-anchor="middle" fill="#111">3</text>
<line x1="160.1" y1="636.2" x2="160.1" y2="638.2" stroke="#1a1a1a" stroke-width="0.8"/>
<text x="160.1" y="647.5" font-size="6.9" font-weight="bold" text-anchor="middle" fill="#111">2</text>
<line x1="183.3" y1="636.2" x2="183.3" y2="638.2" stroke="#1a1a1a" stroke-width="0.8"/>
<text x="183.3" y="647.5" font-size="6.9" font-weight="bold" text-anchor="middle" fill="#111">1</text>
<polyline points="68.7,562.2 91.5,560.5 114.2,560.1 137.4,559.8 160.1,559.1 183.3,560.1" fill="none" stroke="#E8283C" stroke-width="0.7"/>
<circle cx="68.7" cy="562.2" r="1.6" fill="#E8283C"/>
<circle cx="91.5" cy="560.5" r="1.6" fill="#E8283C"/>
<circle cx="114.2" cy="560.1" r="1.6" fill="#E8283C"/>
<circle cx="137.4" cy="559.8" r="1.6" fill="#E8283C"/>
<circle cx="160.1" cy="559.1" r="1.6" fill="#E8283C"/>
<circle cx="183.3" cy="560.1" r="1.6" fill="#E8283C"/>
<polyline points="68.7,620.4 91.5,610.2 114.2,573.4 137.4,571.3 160.1,572.4 183.3,571.7" fill="none" stroke="#111111" stroke-width="0.7"/>
<circle cx="68.7" cy="620.4" r="1.6" fill="#111111"/>
<circle cx="91.5" cy="610.2" r="1.6" fill="#111111"/>
<circle cx="114.2" cy="573.4" r="1.6" fill="#111111"/>
<circle cx="137.4" cy="571.3" r="1.6" fill="#111111"/>
<circle cx="160.1" cy="572.4" r="1.6" fill="#111111"/>
<circle cx="183.3" cy="571.7" r="1.6" fill="#111111"/>
<text x="125.4" y="657.0" font-size="7" font-weight="bold" text-anchor="middle" fill="#111" textLength="77.5" lengthAdjust="spacingAndGlyphs">Analytical spot number</text>
<text transform="translate(25.3,598) rotate(-90)" font-size="6.6" font-weight="bold" text-anchor="middle" fill="#111" textLength="35.5" lengthAdjust="spacingAndGlyphs">‰ (V-PBD)</text>
<text x="70.3" y="558" font-size="8.1" font-weight="bold" fill="#E8283C">δ<tspan font-size="4.9" dy="-3">18</tspan><tspan dy="3">O</tspan></text>
<text x="67.3" y="612.1" font-size="8.1" font-weight="bold" fill="#111111">δ<tspan font-size="4.9" dy="-3">13</tspan><tspan dy="3">C</tspan></text>
<svg x="473" y="0" width="212" height="185.6" viewBox="473 0 212 185.6" overflow="hidden">
<rect x="473" y="0" width="212" height="186" fill="#0a0f10"/>
<g filter="url(#tex)">
<polygon points="473,0 495.6,0 490.9,7.1 490.1,12.6 494.1,22.1 498,31.5 497.2,37.8 487.8,45.7 481.5,44.1 473,42.6" fill="url(#gb0)"/>
<polygon points="487.8,95 490.1,85.1 492.5,74.1 495.6,69.4 502.7,67.8 505.9,53.6 509,39.4 513.8,37.8 517.7,18.9 524,17.3 531.9,18.1 541.4,11.8 550.8,8.7 554,14.2 557.1,7.9 566.6,7.1 577,10.2 591.2,7.9 599.1,11 616.4,11.8 630.6,13.4 636.9,17.3 652.7,18.9 659,23.6 671.6,26.8 679.5,28.4 681.1,31.5 680.3,47.3 677.9,63.1 673.2,78.8 668.4,95 665.3,107.8 659,126.7 654.3,142.5 649.5,155.1 644.8,169.3 643.2,173 640.1,176 636.1,179 630.6,176 625.9,175 620.4,180 614.8,183.5 610.9,182 606.2,179 602.2,180.5 595.9,180 589.6,176 583.3,173 577,172 572.9,172 566.6,174.5 561.9,180 560.3,179.5 546.1,175.6 535.1,174 524,172.4 511.4,166.1 510.6,159.8 497.2,156.6 484.6,152.7 475.2,148.8 478.3,133 483,112.5" fill="url(#gb)"/>
<polygon points="487.8,95 490.1,85.1 492.5,74.1 495.6,69.4 502.7,67.8 505.9,53.6 509,39.4 513.8,37.8 517.7,18.9 524,17.3 531.9,18.1 541.4,11.8 550.8,8.7 554,14.2 557.1,7.9 566.6,7.1 577,10.2 591.2,7.9 599.1,11 616.4,11.8 630.6,13.4 636.9,17.3 652.7,18.9 659,23.6 671.6,26.8 679.5,28.4 681.1,31.5 680.3,47.3 677.9,63.1 673.2,78.8 668.4,95 665.3,107.8 659,126.7 654.3,142.5 649.5,155.1 644.8,169.3 643.2,173 640.1,176 636.1,179 630.6,176 625.9,175 620.4,180 614.8,183.5 610.9,182 606.2,179 602.2,180.5 595.9,180 589.6,176 583.3,173 577,172 572.9,172 566.6,174.5 561.9,180 560.3,179.5 546.1,175.6 535.1,174 524,172.4 511.4,166.1 510.6,159.8 497.2,156.6 484.6,152.7 475.2,148.8 478.3,133 483,112.5" fill="url(#gbr)"/>
<polygon points="677.9,187 679.5,178.7 685,169.3 685,187" fill="#8a8a8a"/>
</g>
<polygon points="563.4,40.2 566.6,44.1 572.9,44.9 576.1,48.9 574.5,53.6 569,55.2 564.2,52.8 561.1,47.3" fill="#0c0f10"/>
<circle cx="542.5" cy="19.4" r="1.2" fill="#1a1a1a"/><ellipse cx="651.9" cy="140.1" rx="2" ry="1.4" fill="#111"/>
<path d="M521,24 L560,20 L600,28 M626,73 L668,92" stroke="#6f6f6f" stroke-width="0.5" fill="none"/>
<polyline points="561.9,178.7 566.6,172.4 572.9,170 577,170 583.3,170.8 589.6,174 595.9,177.9 602.2,178.7 606.2,177.1 610.9,180.3 614.8,181.9 620.4,177.9 625.9,173.2 630.6,174 636.1,177.1 640.1,174 643.2,170.8" fill="none" stroke="#f4f4f4" stroke-width="2.5" stroke-linejoin="round" stroke-linecap="round"/>
<rect x="474.9" y="179" width="55.8" height="3.2" fill="#fff"/>
<text x="483.8" y="175.9" font-size="10.3" fill="#fff">300 µm</text>
<text x="670.4" y="15.9" font-size="15.6" font-weight="bold" fill="#fff">b</text>
<circle cx="510.6" cy="56" r="2.1" fill="none" stroke="#EA2A3E" stroke-width="1.2"/>
<circle cx="512.5" cy="49.2" r="1.7" fill="none" stroke="#161616" stroke-width="1.1"/>
<circle cx="534.3" cy="77.3" r="2.1" fill="none" stroke="#EA2A3E" stroke-width="1.2"/>
<circle cx="539.8" cy="73" r="1.7" fill="none" stroke="#161616" stroke-width="1.1"/>
<circle cx="565.5" cy="116.1" r="2.1" fill="none" stroke="#EA2A3E" stroke-width="1.2"/>
<circle cx="571.6" cy="118.2" r="1.7" fill="none" stroke="#161616" stroke-width="1.1"/>
<circle cx="594.7" cy="166.7" r="2.1" fill="none" stroke="#EA2A3E" stroke-width="1.2"/>
<circle cx="601.1" cy="165" r="1.7" fill="none" stroke="#161616" stroke-width="1.1"/>
<text x="515.3" y="56.8" font-size="9.8" fill="#262626">1</text>
<text x="537.6" y="83.6" font-size="9.8" fill="#262626">2</text>
<text x="568" y="113.3" font-size="9.8" fill="#262626">3</text>
<text x="591.8" y="161.4" font-size="9.8" fill="#262626">4</text>
<text x="599.7" y="90.7" font-size="10.2" fill="#262626">Calcite</text>
<text x="541.6" y="156.6" font-size="10.2" fill="#262626" textLength="34.4" lengthAdjust="spacingAndGlyphs">Siderite</text>
<line x1="561.9" y1="158.2" x2="567.1" y2="169.3" stroke="#262626" stroke-width="0.6"/>
<line x1="524" y1="38.6" x2="556.9" y2="84" stroke="#2b2b2b" stroke-width="1.2" marker-end="url(#mk)"/>
<text transform="translate(533.6,34.5) rotate(55.5)" font-size="10.2" fill="#262626">Growth direction</text>
</svg>
<svg x="473" y="323" width="212" height="212.8" viewBox="473 323 212 212.8" overflow="hidden">
<rect x="473" y="323" width="212" height="213" fill="#0a0e0f"/>
<path d="M493,333 Q520,329 540,330 Q560,327 575,331 L573,336 Q540,338 520,337 Q505,339 493,336 z" fill="#2a2323"/>
<polygon points="485.4,415.9 488.5,400.4 494.7,388.0 504.0,377.2 513.2,367.9 522.5,362.6 534.9,361.7 550.4,362.6 559.7,359.5 565.9,354.0 578.2,352.4 596.8,350.9 609.2,346.2 618.5,340.0 627.8,335.4 640.1,330.7 652.5,328.6 661.8,332.3 669.5,341.6 675.7,350.9 668.0,360.1 660.2,372.5 652.5,384.9 646.3,395.7 644.8,406.6 641.7,415.9 633.9,423.6 633.9,425.0 635.5,434.3 640.1,442.0 638.6,452.9 632.4,459.0 629.3,468.3 627.8,476.1 618.5,482.3 613.8,486.9 615.4,494.6 621.6,502.4 612.3,510.1 607.6,517.9 603.0,527.1 596.8,533.3 592.2,538.0 586.0,534.9 578.2,528.7 568.9,520.9 559.7,510.1 551.9,500.8 545.7,491.5 542.6,482.3 534.9,471.4 525.6,463.7 513.2,457.5 502.4,456.0 493.1,449.8 486.9,440.5 485.4,431.2" fill="url(#gc)" filter="url(#tex)"/>
<polyline points="500.2,456.0 513.2,459.0 524.1,465.2 533.4,473.0 539.5,481.3 545.1,489.1" fill="none" stroke="#f6f6f6" stroke-width="3.2" stroke-linecap="round" stroke-linejoin="round"/>
<path d="M500,455 L505,452.5 L512,455 L519,459.5 L524,464 L520,466 L512,462 L504,459.5 z" fill="#f6f6f6"/>
<path d="M648,398 L652,394 L655,398 L652,406 L649,408 z" fill="#bdbdbd" opacity="0.5"/>
<rect x="475" y="530.2" width="68.6" height="3" fill="#fff"/>
<text x="491" y="527" font-size="10.1" fill="#fff">300 µm</text>
<text x="673" y="338.8" font-size="16" font-weight="bold" fill="#fff">c</text>
<circle cx="543.6" cy="448.2" r="2.4" fill="none" stroke="#161616" stroke-width="1.1"/>
<circle cx="546" cy="456" r="2.5" fill="none" stroke="#EA2A3E" stroke-width="1.2"/>
<circle cx="597.7" cy="428.7" r="2.4" fill="none" stroke="#161616" stroke-width="1.1"/>
<circle cx="594" cy="436.8" r="2.5" fill="none" stroke="#EA2A3E" stroke-width="1.2"/>
<circle cx="628.7" cy="441.1" r="2.4" fill="none" stroke="#161616" stroke-width="1.1"/>
<circle cx="624.3" cy="448.8" r="2.5" fill="none" stroke="#EA2A3E" stroke-width="1.2"/>
<text x="533.6" y="450.3" font-size="10.2" fill="#262626">1</text>
<text x="585" y="429.8" font-size="10.2" fill="#262626">2</text>
<text x="617" y="442" font-size="10.2" fill="#262626">3</text>
<text x="527" y="398.4" font-size="10.2" fill="#262626">Calcite</text>
<text x="492" y="443.3" font-size="10.2" fill="#262626">Siderite</text>
<line x1="511.7" y1="444.5" x2="516.3" y2="457.5" stroke="#262626" stroke-width="0.6"/>
<line x1="550.4" y1="458.4" x2="612.9" y2="444.4" stroke="#2b2b2b" stroke-width="1.2" marker-end="url(#mk)"/>
<text transform="translate(545.5,474.3) rotate(-12.5)" font-size="10.2" fill="#262626">Growth direction</text>
</svg>
<svg x="236" y="399.5" width="230.8" height="136.2" viewBox="236 399.5 230.8 136.2" overflow="hidden">
<rect x="236" y="399.5" width="231" height="137" fill="#030303"/>
<g filter="url(#tex)">
<polygon points="297.4,498.3 277.0,491.1 256.5,484.0 241.1,478.8 248.3,470.7 253.4,465.5 252.0,462.5 257.5,459.0 267.7,461.4 271.8,453.2 274.9,444.0 277.0,432.8 282.1,422.5 285.2,412.3 290.3,403.7 303.6,401.6 317.9,404.1 332.3,408.2 346,412.3 362.4,417.4 376.7,422.5 376.9,437 376.3,442.3 368.5,448.8 363.2,457.5 358.9,461 351.9,469.7 344.9,479.3 338.8,487.2 334.4,491.6 328.3,490.7 325.7,496.8 320.5,505.5" fill="url(#gd)"/>
<polygon points="378.4,443.6 371.1,449.7 366.7,454.9 362.4,462.8 356.2,468 351,475.8 344.9,483.7 339.7,491.6 334.4,499.4 328.3,507.3 324.8,509 346,514.6 376.7,522.8 401.3,530.2 415.6,525.3 422.8,517.1 425.4,511.6 412.5,499.3 402.5,488.1 393.8,479.3 386.8,470.6 383.3,460.1 381.6,451.4 379.8,444.4" fill="#a8a8a8"/>
<polygon points="376.7,421.5 381.4,420.9 388.2,420.2 393.7,423 401.9,425 409.4,426.4 412.8,422.3 421,424.3 426.5,429.1 429.9,433.9 437.4,433.2 441.5,434.6 445.6,437.3 451.1,440.7 451.7,443.5 448.3,446.9 447,452.4 448.3,456.5 449.7,464 447.6,470.1 444.2,477 440.1,483.8 436.7,490.6 434.7,494 434.5,495.6 426.7,490.4 419,484 411.3,477.5 403.5,469.8 395.8,462.1 389.3,456.9 388,446.6 383,441.5 378,438.5 377,430" fill="#a3a3a3"/>
<polygon points="438.8,488.6 445.6,481.1 452.4,477 460.6,476.3 463.4,478.3 462,482.4 456.5,489.3 449.7,495.4 444.2,493.4" fill="#a3a3a3"/>
<polygon points="446.3,496.2 452.4,498.3 453.5,504.4 448.4,503.4" fill="#a3a3a3"/>
</g>
<path d="M380,427.8 L393.7,430.5 L404.6,436 L414.2,444.2 L425.1,451 L434.7,456.5 L445.6,463.3" stroke="#0a0a0a" stroke-width="1.3" fill="none" stroke-linejoin="round" opacity="0.9"/>
<path d="M407.3,427.8 L415.5,434.6 L426.5,438.7 L437.4,445.5 L447,450" stroke="#0a0a0a" stroke-width="1.2" fill="none" stroke-linejoin="round" opacity="0.9"/>
<path d="M426.5,438.7 L429.2,448.3 L434.7,456.5" stroke="#0a0a0a" stroke-width="0.9" fill="none" stroke-linejoin="round" opacity="0.9"/>
<path d="M414.2,444.2 L421,442.8 L431.9,444.2" stroke="#0a0a0a" stroke-width="0.9" fill="none" stroke-linejoin="round" opacity="0.9"/>
<path d="M393.7,423.5 L398,428 L404,429.5 L410,433 L415.5,434.6" stroke="#0a0a0a" stroke-width="0.8" fill="none" stroke-linejoin="round" opacity="0.9"/>
<path d="M412.8,423 L414,428 L420,431 L426,433.5 L431,438 L437,440 L443,441" stroke="#0a0a0a" stroke-width="0.9" fill="none" stroke-linejoin="round" opacity="0.9"/>
<path d="M434.7,456.5 L439,455 L444,458 M425,451 L428,455 L433,460 L440,464" stroke="#0a0a0a" stroke-width="0.8" fill="none" stroke-linejoin="round" opacity="0.9"/>
<path d="M437.4,445.5 L440,449 L445,452 M418,438 L421,442.8" stroke="#0a0a0a" stroke-width="0.8" fill="none" stroke-linejoin="round" opacity="0.9"/>
<path d="M385,424 L390,427 L396,427.5 M401.9,425.5 L404,431 L404.6,436" stroke="#0a0a0a" stroke-width="0.7" fill="none" stroke-linejoin="round" opacity="0.9"/>
<path d="M381.6,470.6 L359.7,517.7" stroke="#6e6e6e" stroke-width="0.5" fill="none"/>
<rect x="243.2" y="522.8" width="92" height="9" fill="#2e2a2a"/>
<rect x="238.5" y="529.3" width="87" height="3.4" fill="#fff"/>
<text x="264.6" y="525.4" font-size="10.1" fill="#fff">500 µm</text>
<text x="452.6" y="416" font-size="16" font-weight="bold" fill="#fff">d</text>
<circle cx="337.4" cy="456.7" r="1.7" fill="none" stroke="#161616" stroke-width="1.3"/>
<circle cx="332.7" cy="462.3" r="1.9" fill="none" stroke="#EA2A3E" stroke-width="1.1"/>
<circle cx="370.2" cy="478.4" r="1.7" fill="none" stroke="#161616" stroke-width="1.3"/>
<circle cx="367.1" cy="483.9" r="1.9" fill="none" stroke="#EA2A3E" stroke-width="1.1"/>
<circle cx="397.2" cy="503.8" r="1.7" fill="none" stroke="#161616" stroke-width="1.3"/>
<circle cx="393.5" cy="507.7" r="1.9" fill="none" stroke="#EA2A3E" stroke-width="1.1"/>
<text x="328.6" y="457.5" font-size="10.4" fill="#0e0e0e">1</text>
<text x="360.8" y="480.4" font-size="10.4" fill="#0e0e0e">2</text>
<text x="389.5" y="503.2" font-size="10.4" fill="#0e0e0e">3</text>
<text x="311.8" y="437.9" font-size="10.2" fill="#262626">Calcite</text>
<line x1="317.5" y1="464.5" x2="384.2" y2="503.2" stroke="#2b2b2b" stroke-width="1.2" marker-end="url(#mk)"/>
<text transform="translate(307,475.2) rotate(29)" font-size="10.2" fill="#262626">Growth direction</text>
</svg>
<svg x="0" y="399.5" width="230.9" height="136.2" viewBox="0 399.5 230.9 136.2" overflow="hidden">
<rect x="0" y="399.5" width="231.3" height="137" fill="#000"/>
<clipPath id="ce"><polygon points="7.8,416.4 19.5,409.8 32.8,411.3 51.2,414.7 69.6,419.5 86.0,423.6 102.4,430.7 120.0,439.9 128.4,444.0 146.8,452.2 165.2,461.4 183.7,470.7 200.1,479.9 214.4,487.0 221.6,491.7 222.6,496.3 216.4,504.4 204.2,515.7 191.9,527.0 185.7,530.0 173.4,531.1 159.1,532.1 153.0,531.1 138.6,523.9 124.3,516.7 112.0,510.6 106.5,506.5 90.1,496.3 73.7,486.0 57.3,475.8 44.0,467.6 35.8,460.4 27.6,450.2 20.5,438.9 14.3,426.6"/></clipPath>
<g filter="url(#tex)">
<polygon points="7.8,416.4 19.5,409.8 32.8,411.3 51.2,414.7 69.6,419.5 86.0,423.6 102.4,430.7 120.0,439.9 128.4,444.0 146.8,452.2 165.2,461.4 183.7,470.7 200.1,479.9 214.4,487.0 221.6,491.7 222.6,496.3 216.4,504.4 204.2,515.7 191.9,527.0 185.7,530.0 173.4,531.1 159.1,532.1 153.0,531.1 138.6,523.9 124.3,516.7 112.0,510.6 106.5,506.5 90.1,496.3 73.7,486.0 57.3,475.8 44.0,467.6 35.8,460.4 27.6,450.2 20.5,438.9 14.3,426.6" fill="#727272"/>
<g clip-path="url(#ce)"><polygon points="7.8,416.4 19.5,409.8 32.8,411.3 51.2,414.7 69.6,419.5 86.0,423.6 102.4,430.7 120.0,439.9 128.4,444.0 146.8,452.2 165.2,461.4 183.7,470.7 200.1,479.9 214.4,487.0 221.6,491.7 222.6,496.3 216.4,504.4 204.2,515.7 191.9,527.0 185.7,530.0 173.4,531.1 159.1,532.1 153.0,531.1 138.6,523.9 124.3,516.7 112.0,510.6 106.5,506.5 90.1,496.3 73.7,486.0 57.3,475.8 44.0,467.6 35.8,460.4 27.6,450.2 20.5,438.9 14.3,426.6" fill="none" stroke="#9c9c9c" stroke-width="7" filter="url(#blur3)"/></g>
</g>
<ellipse cx="62.5" cy="432.2" rx="3.7" ry="4.1" fill="#050505"/>
<rect x="21.5" y="527.4" width="73.1" height="5.3" fill="#2e2a2a"/>
<rect x="2.5" y="529.3" width="81.1" height="3.4" fill="#fff"/>
<text x="26.6" y="525.4" font-size="10.1" fill="#fff">500 µm</text>
<text x="216.6" y="415.5" font-size="16" font-weight="bold" fill="#fff">e</text>
<circle cx="19" cy="414.7" r="2.0" fill="none" stroke="#161616" stroke-width="1.1"/>
<circle cx="13.7" cy="417.8" r="2.1" fill="none" stroke="#EA2A3E" stroke-width="1.2"/>
<circle cx="27.2" cy="430.7" r="2.0" fill="none" stroke="#161616" stroke-width="1.1"/>
<circle cx="29.3" cy="424.6" r="2.1" fill="none" stroke="#EA2A3E" stroke-width="1.2"/>
<circle cx="48.7" cy="430.7" r="2.0" fill="none" stroke="#161616" stroke-width="1.1"/>
<circle cx="53" cy="426" r="2.1" fill="none" stroke="#EA2A3E" stroke-width="1.2"/>
<circle cx="90.1" cy="469.2" r="2.0" fill="none" stroke="#161616" stroke-width="1.1"/>
<circle cx="85.6" cy="465.1" r="2.1" fill="none" stroke="#EA2A3E" stroke-width="1.2"/>
<circle cx="123.3" cy="473.3" r="2.0" fill="none" stroke="#161616" stroke-width="1.1"/>
<circle cx="118.8" cy="469.6" r="2.1" fill="none" stroke="#EA2A3E" stroke-width="1.2"/>
<circle cx="187.8" cy="513" r="2.0" fill="none" stroke="#161616" stroke-width="1.1"/>
<circle cx="191.5" cy="507.5" r="2.1" fill="none" stroke="#EA2A3E" stroke-width="1.2"/>
<text x="16" y="425" font-size="9.4" fill="#2e2e2e">6</text>
<text x="30.7" y="435.2" font-size="9.4" fill="#2e2e2e">5</text>
<text x="51.8" y="435.8" font-size="9.4" fill="#2e2e2e">4</text>
<text x="89.1" y="466" font-size="9.4" fill="#2e2e2e">3</text>
<text x="121.8" y="469.6" font-size="9.4" fill="#2e2e2e">2</text>
<text x="183.5" y="510.2" font-size="9.4" fill="#2e2e2e">1</text>
<text x="153" y="484" font-size="10.2" fill="#262626">Calcite</text>
<line x1="91.1" y1="504.4" x2="38.9" y2="471.7" stroke="#fff" stroke-width="1.3" marker-end="url(#mw)"/>
<text transform="translate(20.8,477.6) rotate(32)" font-size="10.2" fill="#fff">Growth direction</text>
</svg>
<line x1="35.8" y1="425.6" x2="108.3" y2="270" stroke="#3F6FBE" stroke-width="1.1" marker-end="url(#mb)"/>
<line x1="100.3" y1="453.2" x2="179.8" y2="332.8" stroke="#3F6FBE" stroke-width="1.1" marker-end="url(#mb)"/>
<line x1="492.3" y1="108.2" x2="470" y2="110" stroke="#EB8035" stroke-width="1.1"/>
<line x1="375.8" y1="435.7" x2="381.5" y2="396" stroke="#EB8035" stroke-width="1.1"/>
<line x1="508" y1="394.2" x2="470" y2="350.2" stroke="#EB8035" stroke-width="1.1"/>
</svg>

</div></body></html>
